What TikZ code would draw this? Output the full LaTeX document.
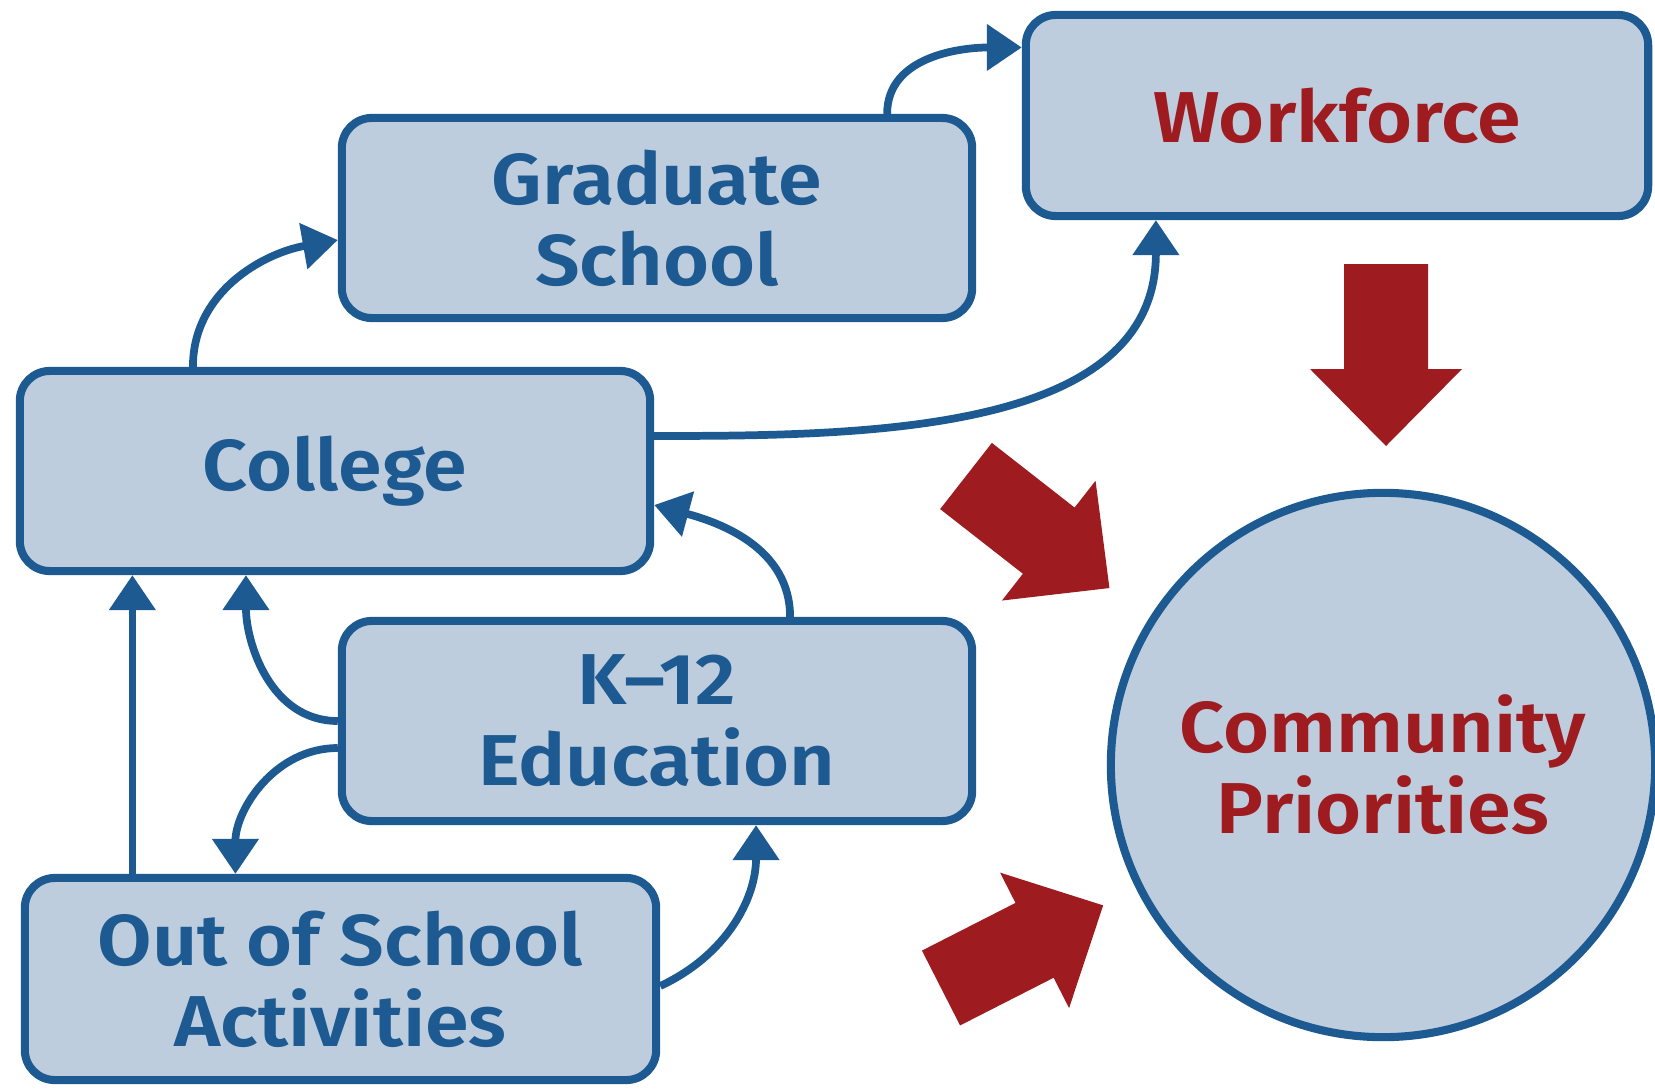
\documentclass[tikz,border=0pt]{standalone}
\usepackage{fontspec}
\setmainfont{Fira Sans}[BoldFont={Fira Sans SemiBold}, FakeStretch=1.095]
\usetikzlibrary{arrows.meta}
\definecolor{boxblue}{RGB}{28,90,145}
\definecolor{boxfill}{RGB}{190,205,221}
\definecolor{prioritred}{RGB}{158,27,32}

\begin{document}
\begin{tikzpicture}[x = 0.01cm, y = -0.01cm]
\tikzstyle{BoxStyle}=[rectangle, rounded corners = 0.3cm,
                      draw = boxblue, line width = 2.3pt,
                      fill = boxfill, text = boxblue,
                      font = \fontsize{20.5}{23}\selectfont\bfseries,
                      align = center, inner sep = 0pt,
                      minimum width = 6.30cm, minimum height = 2.00cm]
\tikzstyle{LinkStyle}=[draw = boxblue, line width = 2.2pt,
                       -{Triangle[length = 0.35cm, width = 0.45cm]}]
\tikzset{BigArrow/.pic = {\fill[prioritred] (0,-42) -- (105,-42) -- (105,-76) -- (182,0) -- (105,76) -- (105,42) -- (0,42) -- cycle;}}
\useasboundingbox (0,0) rectangle (1655,1091);
\node[BoxStyle] (grad) at (657, 218) {Graduate\\School};
\node[BoxStyle, text = prioritred, minimum width = 6.22cm, minimum height = 2.01cm] (work) at (1337, 115.5) {Workforce};
\node[BoxStyle] (coll) at (335, 471) {College};
\node[BoxStyle] (k12) at (657, 721) {K--12\\Education};
\node[BoxStyle, minimum width = 6.31cm, minimum height = 2.02cm] (out) at (340.5, 979) {Out of School\\Activities};
\node[BoxStyle, circle, text = prioritred, minimum size = 5.44cm] (prio) at (1383, 765) {Community\\Priorities};
\pic[rotate = -90] at (1386, 264) {BigArrow};
\pic[rotate = -38] at (966, 476) {BigArrow};
\pic[rotate = 27] at (941, 988) {BigArrow};
\draw[LinkStyle] ([xshift = -1.42cm]coll.north) to[out = 90, in = 190] ([yshift = -0.22cm]grad.west);
\draw[LinkStyle] ([xshift = 2.30cm]grad.north) to[out = 90, in = 180] ([yshift = 0.68cm]work.west);
\draw[LinkStyle] ([yshift = 0.35cm]coll.east) to[out = 0, in = -90] ([xshift = -1.81cm]work.south);
\draw[LinkStyle] ([xshift = 1.33cm]k12.north) to[out = 90, in = -15] ([yshift = -0.34cm]coll.east);
\draw[LinkStyle] (k12.west) to[out = 180, in = -90] ([xshift = -0.89cm]coll.south);
\draw[LinkStyle] ([yshift = -0.27cm]k12.west) to[out = 180, in = 90] ([xshift = -1.05cm]out.north);
\draw[LinkStyle] ([xshift = -2.08cm]out.north) -- ([xshift = -2.08cm]out.north |- coll.south);
\draw[LinkStyle] ([yshift = -0.07cm]out.east) to[out = 25, in = -90] ([xshift = 0.99cm]k12.south);
\end{tikzpicture}
\end{document}
